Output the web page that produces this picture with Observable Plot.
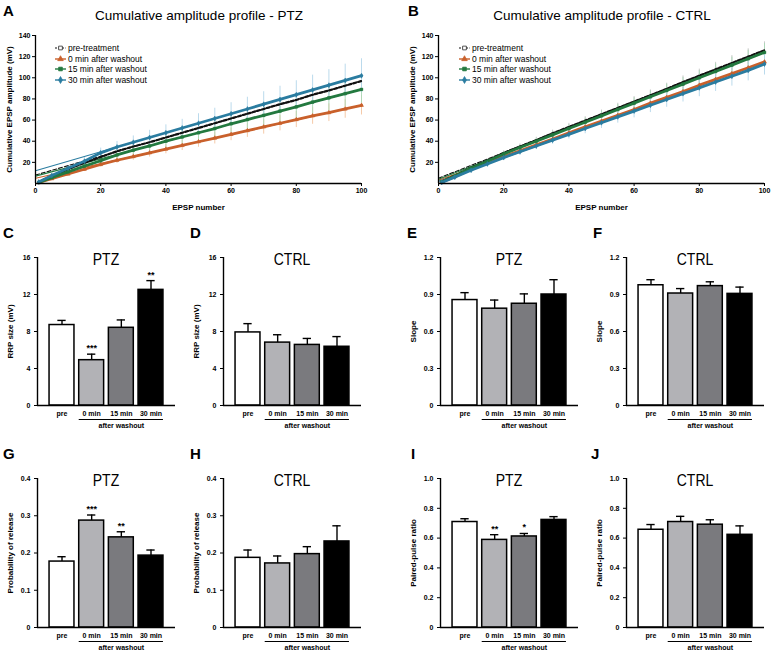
<!DOCTYPE html>
<html>
<head>
<meta charset="utf-8">
<script src="https://cdn.jsdelivr.net/npm/d3@7"></script>
<script src="https://cdn.jsdelivr.net/npm/@observablehq/plot@0.6"></script>
<style>
html,body{margin:0;padding:0;background:#fff;}
#fig{position:relative;width:773px;height:653px;overflow:hidden;font-family:"Liberation Sans",Arial,sans-serif;}
#fig svg{position:absolute;overflow:visible;}
</style>
</head>
<body>
<div id="fig"></div>
<script>
// ---------- categories & styles ----------
const groups = ["pre", "0 min", "15 min", "30 min"];
const seriesNames = ["pre-treatment", "0 min after washout", "15 min after washout", "30 min after washout"];
const lineColors = ["#111111", "#c9602b", "#23793f", "#2a7ca0"];
const errColors = ["#c4c4c4", "#f4c49f", "#a9d8b5", "#b3d6ea"];
const symbols = ["square", "triangle", "square", "diamond"];
const barFills = ["#ffffff", "#b2b2b6", "#7a7a7e", "#000000"];

// ---------- cumulative amplitude profiles ----------
const epsp = [1,5,10,15,20,25,30,35,40,45,50,55,60,65,70,75,80,85,90,95,100];

const ptzPre   = [1.5,7,13.5,19.5,25,30.5,35,39,43.5,48,52.5,57,61.5,66,70.5,75,79,84,88,92.5,97];
const ptz0     = [1,4.5,9,13.5,18,22,25.5,29,32.5,36,39.5,43,46.5,50,53.5,57,60.5,64,67,70.5,74];
const ptz15    = [1,5.5,11,16.5,21.5,27,31.5,35.5,40,44,48,52,56.5,60.5,64.5,68.5,72.5,77,81,85,89];
const ptz30    = [1.5,7.5,14.5,21,29,34.5,39,43.5,48,52.5,57,61.5,66,70.5,75,79.5,84,88.5,93,97.5,102];
const ptzPreSE = [0.3,1,1.5,2,2.3,2.6,2.9,3.2,3.5,3.8,4,4.3,4.6,4.9,5.2,5.5,5.8,6,6.3,6.6,7];
const ptz0SE   = [0.3,1,1.5,2,2.5,3,3.5,4,4.4,4.8,5.2,5.6,6,6.4,6.8,7.2,7.6,8,8.4,8.8,9.2];
const ptz15SE  = [0.3,1.2,2,2.8,3.5,4.2,4.8,5.4,6,6.6,7.2,7.8,8.4,9,9.6,10.2,10.8,11.4,12,12.6,13];
const ptz30SE  = [0.4,1.5,2.5,3.5,4.5,5.3,6,6.8,7.5,8.2,9,9.7,10.4,11.1,11.8,12.5,13.2,14,14.7,15.4,16];

const ctrlPre   = [2,7.5,15,21.5,29,35,41,47.5,53.5,59.5,65.5,71.5,77.5,83.5,89.5,96,102,108,114,120,126];
const ctrl0     = [1.5,6.5,13.5,19.5,25.5,31,36.5,42,48,53.5,59,64.5,70,76,81.5,87,93,98.5,104,109.5,115];
const ctrl15    = [1.5,7,14.5,21,28,34,40,46,52,58,64,70,76,82,88,94,100,106,112,118,124];
const ctrl30    = [1,6,12.5,18.5,24.5,30,35.5,41,46.5,52,57.5,63,68.5,74,79.5,85,90.5,96,101.5,107,113];
const ctrlPreSE = [0.3,0.8,1.2,1.6,2,2.4,2.7,3,3.4,3.7,4,4.4,4.7,5,5.4,5.8,6.2,6.6,7,7.4,8];
const ctrl0SE   = [0.3,0.6,0.9,1.2,1.5,1.8,2,2.3,2.5,2.8,3,3.3,3.5,3.8,4,4.3,4.5,4.8,5,5.3,5.5];
const ctrl15SE  = [0.3,0.8,1.2,1.6,2,2.4,2.8,3.2,3.6,4,4.4,4.8,5.2,5.6,6,6.4,6.8,7.2,7.6,8,8.4];
const ctrl30SE  = [0.3,0.9,1.4,1.9,2.4,2.9,3.4,3.9,4.4,4.9,5.4,5.9,6.4,6.9,7.4,7.9,8.4,8.9,9.4,9.9,10.4];

// linear fits (value at EPSP 0 and at EPSP 100)
const fitRange = [0, 100];
const ptzFitStart = [8, 5, 7, 12], ptzFitEnd = [97, 74, 89, 102];
const ctrlFitStart = [5, 3, 4, 2], ctrlFitEnd = [126, 115, 124, 113];
const cumTicksX = [0, 20, 40, 60, 80, 100];
const cumTicksY = [20, 40, 60, 80, 100, 120, 140];

// ---------- bar panels ----------
const rrpPTZ = [8.7, 4.9, 8.4, 12.5],     rrpPTZErr = [0.5, 0.65, 0.85, 1.0],   rrpPTZStars = ["", "***", "", "**"];
const rrpCTRL = [7.9, 6.8, 6.55, 6.35],   rrpCTRLErr = [0.95, 0.85, 0.7, 1.1],  noStars = ["", "", "", ""];
const slopePTZ = [0.855, 0.785, 0.825, 0.9], slopePTZErr = [0.06, 0.07, 0.08, 0.12];
const slopeCTRL = [0.975, 0.908, 0.968, 0.905], slopeCTRLErr = [0.045, 0.04, 0.035, 0.055];
const prPTZ = [0.177, 0.287, 0.242, 0.193], prPTZErr = [0.013, 0.015, 0.015, 0.015], prPTZStars = ["", "***", "**", ""];
const prCTRL = [0.187, 0.172, 0.197, 0.231], prCTRLErr = [0.021, 0.02, 0.02, 0.042];
const pprPTZ = [0.708, 0.588, 0.611, 0.722], pprPTZErr = [0.022, 0.035, 0.02, 0.022], pprPTZStars = ["", "**", "*", ""];
const pprCTRL = [0.656, 0.708, 0.69, 0.622], pprCTRLErr = [0.035, 0.038, 0.033, 0.06];
const rrpTicks = [0, 4, 8, 12, 16];
const slopeTicks = [0, 0.3, 0.6, 0.9, 1.2];
const prTicks = [0, 0.1, 0.2, 0.3, 0.4];
const pprTicks = [0, 0.2, 0.4, 0.6, 0.8, 1.0];

// ---------- layout ----------
const W = 773, H = 653;
const FONT = "'Liberation Sans', Arial, sans-serif";
const fig = document.getElementById("fig");
function place(node, left, top) {
  node.style.left = left + "px";
  node.style.top = top + "px";
  fig.appendChild(node);
}

function linePanel(means, ses, fitStart, fitEnd, axisLeft, label) {
  const ML = 35, MT = 8, MR = 10, MB = 30, PW = 326, PH = 148, topY = 35;
  const marks = [];
  means.forEach((m, s) => {
    const rows = epsp.map((x, k) => ({x, y: m[k], e: ses[s][k]}));
    marks.push(Plot.ruleX(rows, {x: "x", y1: d => d.y - d.e, y2: d => d.y + d.e, stroke: errColors[s], strokeWidth: 0.9}));
  });
  means.forEach((m, s) => {
    const fit = fitRange.map((x, j) => ({x, y: j ? fitEnd[s] : fitStart[s]}));
    marks.push(Plot.line(fit, {x: "x", y: "y", stroke: lineColors[s], strokeWidth: 1.1, strokeDasharray: s === 0 ? "4,2" : undefined}));
  });
  means.forEach((m, s) => {
    const rows = epsp.map((x, k) => ({x, y: m[k]}));
    if (s === 0) {
      marks.push(Plot.line(rows, {x: "x", y: "y", stroke: lineColors[s], strokeWidth: 2.2, strokeDasharray: "3,2"}));
    } else {
      marks.push(Plot.line(rows, {x: "x", y: "y", stroke: lineColors[s], strokeWidth: 2.8}));
      marks.push(Plot.dot(rows, {x: "x", y: "y", symbol: symbols[s], r: 1.5, fill: lineColors[s], stroke: lineColors[s], strokeWidth: 0.5}));
    }
  });
  marks.push(
    Plot.ruleY([0], {stroke: "#000", strokeWidth: 1.3}),
    Plot.ruleX([0], {stroke: "#000", strokeWidth: 1.3}),
    Plot.axisX(cumTicksX, {tickSize: 3, tickPadding: 2, fontSize: 7, fontWeight: "bold", label: null}),
    Plot.axisY(cumTicksY, {tickSize: 3, tickPadding: 2, fontSize: 7, fontWeight: "bold", label: null}),
    Plot.text(["EPSP number"], {frameAnchor: "bottom", dy: 24, lineAnchor: "middle", textAnchor: "middle", fontSize: 8, fontWeight: "bold", text: d => d}),
    Plot.text([label], {frameAnchor: "left", dx: -26, rotate: -90, textAnchor: "middle", lineAnchor: "middle", fontSize: 8, fontWeight: "bold", text: d => d})
  );
  const svg = Plot.plot({
    width: ML + PW + MR, height: MT + PH + MB,
    marginLeft: ML, marginTop: MT, marginRight: MR, marginBottom: MB,
    style: {fontFamily: FONT, overflow: "visible", background: "none", color: "#000"},
    x: {domain: [0, 100]},
    y: {domain: [0, 140]},
    marks
  });
  place(svg, axisLeft - ML, topY - MT);
}

const xDom = [-0.826, 3.826];
function barPanel(cfg) {
  const {means, errs, stars, yMax, yTicks, fmt, label, axisLeft, topY, axisY} = cfg;
  const ML = 34, MT = 8, MR = 6, MB = 30, PW = 138, PH = axisY - topY;
  const rows = means.map((v, i) => ({i, v, e: errs[i], s: stars[i]}));
  const half = 0.42, cap = 0.14;
  const marks = [
    Plot.ruleX(rows, {x: "i", y1: "v", y2: d => d.v + d.e, stroke: "#000", strokeWidth: 1.4}),
    Plot.ruleY(rows, {y: d => d.v + d.e, x1: d => d.i - cap, x2: d => d.i + cap, stroke: "#000", strokeWidth: 1.4}),
    ...rows.map(r => Plot.rect([r], {x1: d => d.i - half, x2: d => d.i + half, y1: 0, y2: "v", fill: barFills[r.i], stroke: "#000", strokeWidth: 1.5})),
    Plot.text(rows, {x: "i", y: d => d.v + d.e, text: "s", dy: -6, fontSize: 9, fontWeight: "bold"}),
    Plot.ruleY([0], {stroke: "#000", strokeWidth: 1.4}),
    Plot.ruleX([xDom[0]], {stroke: "#000", strokeWidth: 1.4}),
    Plot.axisY(yTicks, {tickSize: 3, tickPadding: 4, fontSize: 7, fontWeight: "bold", tickFormat: fmt, label: null}),
    Plot.axisX(d3.range(groups.length), {tickSize: 0, tickPadding: 6, fontSize: 7, fontWeight: "bold", tickFormat: i => groups[i], label: null}),
    Plot.ruleY([0], {x1: 1 - half, x2: groups.length - 1 + half, dy: 14, stroke: "#000", strokeWidth: 1}),
    Plot.text(["after washout"], {x: d3.mean([1, 2, 3]), y: 0, dy: 20, fontSize: 7, fontWeight: "bold", text: d => d}),
    Plot.text([label], {frameAnchor: "left", dx: -27.5, rotate: -90, textAnchor: "middle", lineAnchor: "middle", fontSize: 8, fontWeight: "bold", text: d => d})
  ];
  const svg = Plot.plot({
    width: ML + PW + MR, height: MT + PH + MB,
    marginLeft: ML, marginTop: MT, marginRight: MR, marginBottom: MB,
    style: {fontFamily: FONT, overflow: "visible", background: "none", color: "#000"},
    x: {domain: xDom},
    y: {domain: [0, yMax]},
    marks
  });
  place(svg, axisLeft - ML, topY - MT);
}

// row 1
linePanel([ptzPre, ptz0, ptz15, ptz30], [ptzPreSE, ptz0SE, ptz15SE, ptz30SE], ptzFitStart, ptzFitEnd, 35, "Cumulative EPSP amplitude (mV)");
linePanel([ctrlPre, ctrl0, ctrl15, ctrl30], [ctrlPreSE, ctrl0SE, ctrl15SE, ctrl30SE], ctrlFitStart, ctrlFitEnd, 438, "Cumulative EPSP amplitude (mV)");

const colX = [37, 223, 440, 626];
const rowTop = [257, 478], rowAxis = [405, 627];
const f0 = d => String(d);
const f1 = d => d === 0 ? "0" : d.toFixed(1);
const panels = [
  {means: rrpPTZ, errs: rrpPTZErr, stars: rrpPTZStars, yMax: 16, yTicks: rrpTicks, fmt: f0, label: "RRP size (mV)", c: 0, r: 0, title: "PTZ", letter: "C"},
  {means: rrpCTRL, errs: rrpCTRLErr, stars: noStars, yMax: 16, yTicks: rrpTicks, fmt: f0, label: "RRP size (mV)", c: 1, r: 0, title: "CTRL", letter: "D"},
  {means: slopePTZ, errs: slopePTZErr, stars: noStars, yMax: 1.2, yTicks: slopeTicks, fmt: f1, label: "Slope", c: 2, r: 0, title: "PTZ", letter: "E"},
  {means: slopeCTRL, errs: slopeCTRLErr, stars: noStars, yMax: 1.2, yTicks: slopeTicks, fmt: f1, label: "Slope", c: 3, r: 0, title: "CTRL", letter: "F"},
  {means: prPTZ, errs: prPTZErr, stars: prPTZStars, yMax: 0.4, yTicks: prTicks, fmt: f1, label: "Probability of release", c: 0, r: 1, title: "PTZ", letter: "G"},
  {means: prCTRL, errs: prCTRLErr, stars: noStars, yMax: 0.4, yTicks: prTicks, fmt: f1, label: "Probability of release", c: 1, r: 1, title: "CTRL", letter: "H"},
  {means: pprPTZ, errs: pprPTZErr, stars: pprPTZStars, yMax: 1.0, yTicks: pprTicks, fmt: f1, label: "Paired-pulse ratio", c: 2, r: 1, title: "PTZ", letter: "I"},
  {means: pprCTRL, errs: pprCTRLErr, stars: noStars, yMax: 1.0, yTicks: pprTicks, fmt: f1, label: "Paired-pulse ratio", c: 3, r: 1, title: "CTRL", letter: "J"}
];
panels.forEach(p => barPanel({...p, axisLeft: colX[p.c], topY: rowTop[p.r], axisY: rowAxis[p.r]}));

// ---------- overlay: letters, titles, legends ----------
const ov = d3.create("svg").attr("width", W).attr("height", H).style("left", "0px").style("top", "0px")
  .style("font-family", FONT).style("pointer-events", "none");
const letters = [["A", 3, 16], ["B", 408, 16], ["C", 3, 238], ["D", 190, 238], ["E", 407, 238], ["F", 593, 238],
                 ["G", 3, 459], ["H", 190, 459], ["I", 411, 459], ["J", 591, 459]];
letters.forEach(([t, x, y]) => ov.append("text").attr("x", x).attr("y", y).attr("font-size", 15).attr("font-weight", "bold").text(t));
[["Cumulative amplitude profile - PTZ", 199], ["Cumulative amplitude profile - CTRL", 602]].forEach(([t, x]) =>
  ov.append("text").attr("x", x).attr("y", 20).attr("text-anchor", "middle").attr("font-size", 13.5).text(t));
panels.forEach(p => {
  const cx = colX[p.c] + 69, by = rowTop[p.r] + 8;
  ov.append("text").attr("transform", `translate(${cx},${by}) scale(1,1.15)`).attr("text-anchor", "middle").attr("font-size", 14).text(p.title);
});
// legends
const symGen = {square: d3.symbolSquare, triangle: d3.symbolTriangle, diamond: d3.symbolDiamond};
[[55, 68], [459, 472]].forEach(([sx, tx]) => {
  const rowsY = [48, 59, 69, 80];
  seriesNames.forEach((name, s) => {
    const y = rowsY[s];
    ov.append("line").attr("x1", sx).attr("x2", sx + 11).attr("y1", y).attr("y2", y)
      .attr("stroke", lineColors[s]).attr("stroke-width", s === 0 ? 1.2 : 1.4).attr("stroke-dasharray", s === 0 ? "2,1.5" : null);
    ov.append("path").attr("d", d3.symbol(symGen[symbols[s]], 14)()).attr("transform", `translate(${sx + 5.5},${y})`)
      .attr("fill", s === 0 ? "white" : lineColors[s]).attr("stroke", lineColors[s]).attr("stroke-width", 0.7);
    ov.append("text").attr("x", tx).attr("y", y + 3).attr("font-size", 8.5).text(name);
  });
});
place(ov.node(), 0, 0);
</script>
</body>
</html>
